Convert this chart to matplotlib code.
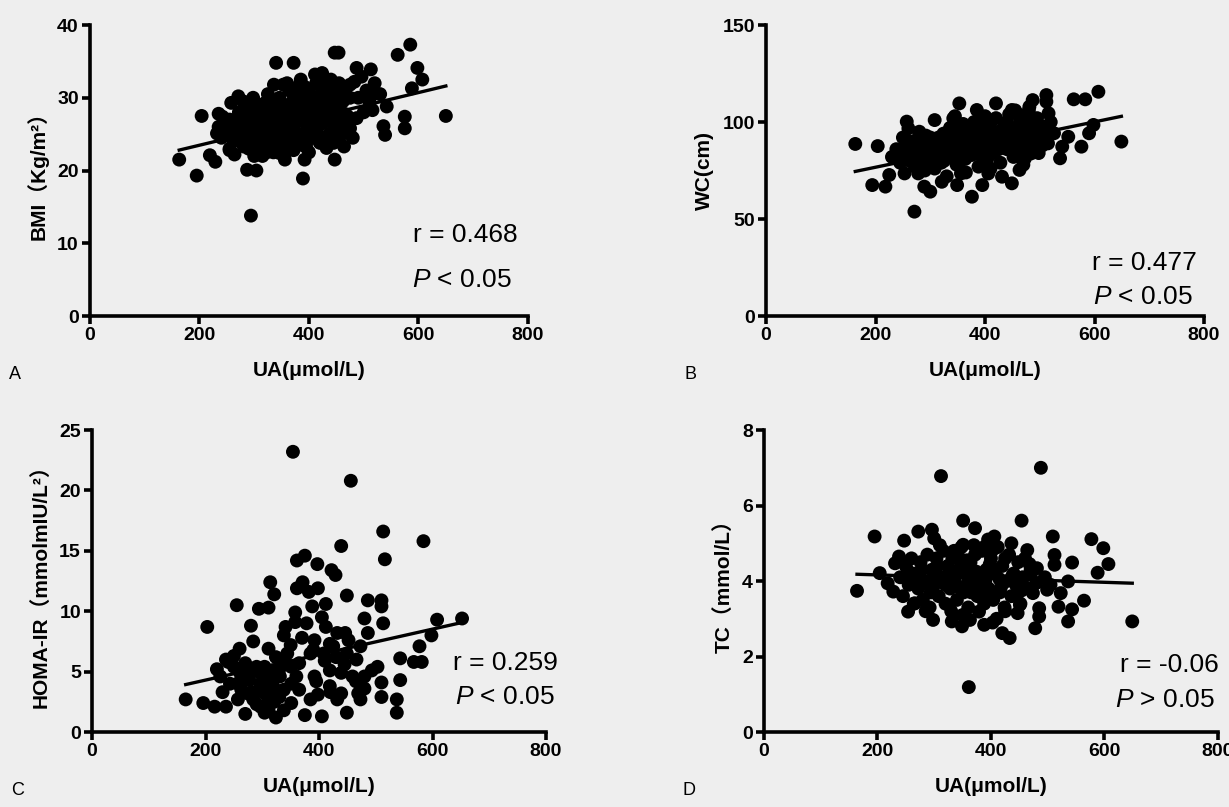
import numpy as np
import matplotlib
matplotlib.use('Agg')
import matplotlib.pyplot as plt

plt.rcParams['font.family'] = ['Liberation Sans', 'Noto Sans CJK SC', 'DejaVu Sans']
plt.rcParams['mathtext.fontset'] = 'custom'
plt.rcParams['mathtext.rm'] = 'Liberation Sans'
plt.rcParams['mathtext.it'] = 'Liberation Sans:italic'

# ---- panel A: BMI vs UA ----
ua_a = [163, 195, 204, 219, 229, 235, 232, 242, 258, 271, 287, 304, 294, 255, 264, 281, 320, 340, 372, 336,
        353, 385, 392, 389, 411, 424, 447, 454, 432, 447, 464, 487, 513, 487, 542, 539, 536, 522, 562, 585,
        598, 607, 588, 575, 575, 650, 496, 516, 483, 474, 480, 457, 438, 405, 379, 359, 353, 346, 356, 372,
        398, 411, 428,
        250, 255, 262, 268, 272, 278, 282, 286, 290, 293, 296, 300, 302, 305, 308, 310, 313, 316, 318, 320,
        323, 326, 328, 331, 334, 337, 340, 343, 346, 348, 351, 353, 356, 358, 361, 364, 366, 369, 372, 375,
        378, 380, 383, 386, 389, 392, 395, 398, 401, 404, 407, 410, 413, 416, 419, 422, 425, 428, 431, 434,
        437, 440, 443, 446, 449, 452, 455, 458, 462, 466, 470, 475, 280, 298, 315, 335, 355, 372, 300, 285,
        312, 325, 360, 345, 390, 415, 430, 445, 460, 505, 520, 510, 530, 500, 255, 240, 245, 235,
        265, 275, 285, 295, 305, 315, 325, 335, 345, 355, 365, 375, 385, 395, 405, 415, 425, 435, 445, 455,
        465, 475, 360, 370, 380, 390, 400, 420, 440, 450, 290, 310, 330, 350, 320, 340, 365, 400, 410, 430,
        285, 270, 300, 330, 345, 395, 420, 460, 475, 490]
bmi = [21.5, 19.3, 27.5, 22.1, 21.2, 26.0, 25.1, 27.4, 29.3, 30.2, 20.1, 20.0, 13.8, 22.8, 22.2, 23.3, 29.3, 34.8, 34.8, 31.8,
       31.8, 32.5, 21.5, 18.9, 33.2, 33.4, 36.2, 36.2, 23.1, 21.5, 23.3, 34.1, 33.9, 27.2, 28.8, 24.9, 26.1, 30.6, 35.9, 37.3,
       34.1, 32.5, 31.3, 27.4, 25.8, 27.5, 32.9, 28.3, 32.2, 25.1, 24.5, 29.7, 30.2, 28.8, 29.7, 27.4, 24.2, 22.4, 21.5, 23.3,
       24.2, 25.6, 27.0,
       25.5, 27.0, 24.0, 26.5, 28.0, 25.0, 23.5, 27.5, 26.0, 24.5, 28.5, 22.0, 25.5, 27.0, 23.0, 29.0, 26.0, 24.0, 27.5, 25.0,
       22.5, 28.0, 26.5, 24.0, 29.5, 27.0, 25.5, 23.5, 30.0, 28.0, 26.0, 24.5, 29.0, 27.0, 23.0, 31.0, 25.5, 28.5, 26.0, 24.0,
       30.5, 27.5, 25.0, 29.0, 23.5, 31.5, 26.5, 28.0, 24.5, 30.0, 27.0, 25.5, 32.0, 28.5, 24.0, 30.5, 26.5, 29.0, 31.5, 27.5,
       25.0, 32.5, 29.5, 26.0, 30.5, 28.0, 32.0, 26.5, 29.5, 31.0, 27.5, 30.0, 29.5, 30.0, 22.0, 22.5, 22.0, 22.8, 24.0, 25.0,
       28.5, 30.5, 32.0, 26.8, 27.2, 29.5, 24.0, 23.8, 25.0, 31.0, 32.0, 29.5, 30.5, 28.0, 23.0, 24.5, 26.0, 27.8,
       24.8, 26.2, 28.8, 25.8, 23.8, 26.8, 24.8, 27.8, 24.2, 26.8, 28.2, 26.5, 23.8, 29.8, 26.2, 25.2, 28.2, 30.2, 27.2, 24.8,
       27.8, 25.8, 25.5, 29.5, 31.5, 25.0, 31.0, 32.5, 29.0, 31.5, 23.0, 27.5, 25.5, 28.5, 23.5, 29.0, 23.5, 22.5, 28.0, 27.0,
       26.5, 24.2, 27.2, 28.8, 22.8, 23.2, 23.8, 30.0, 31.8, 30.0]
fit_a = (0.01809, 19.86)   # slope, intercept

# ---- panel B: WC vs UA ----
ua_b = [163, 204, 194, 218, 225, 257, 260, 271, 308, 353, 342, 385, 376, 420, 449, 481, 487, 512, 512, 516,
        562, 583, 607, 598, 590, 576, 537, 541, 552, 649, 449, 431, 406, 395, 349, 356, 300, 289, 321, 278,
        253, 463, 473, 484, 498, 526, 505,
        230, 238, 245, 250, 255, 262, 268, 272, 276, 280, 284, 288, 292, 296, 300, 304, 308, 312, 316, 320,
        324, 328, 332, 336, 340, 344, 348, 352, 356, 360, 364, 368, 372, 376, 380, 384, 388, 392, 396, 400,
        404, 408, 412, 416, 420, 424, 428, 432, 436, 440, 444, 448, 452, 456, 460, 464, 468, 472, 476, 480,
        486, 492, 498, 504, 510, 515, 520, 300, 290, 330, 345, 365, 385, 410, 435, 455, 470, 495, 260, 280,
        320,
        250, 265, 275, 285, 295, 305, 315, 325, 335, 345, 355, 365, 375, 385, 395, 405, 415, 425, 435, 445,
        455, 465, 475, 485, 495, 505, 345, 360, 380, 400, 420, 440, 460, 480, 500, 310, 290, 270, 330, 390]
wc = [88.7, 87.6, 67.5, 66.7, 72.7, 100.2, 96.7, 53.8, 101.0, 109.6, 101.9, 106.2, 61.5, 109.6, 106.2, 107.9, 111.3, 113.9, 110.5, 104.5,
      111.7, 111.7, 115.6, 98.5, 94.2, 87.3, 81.3, 87.3, 92.4, 89.9, 68.4, 71.8, 73.5, 67.5, 67.5, 73.5, 64.1, 66.7, 69.2, 73.5,
      73.5, 75.3, 81.3, 83.8, 90.7, 94.2, 97.6,
      82, 86, 79, 84, 88, 80, 85, 77, 91, 83, 87, 79, 93, 84, 81, 88, 76, 90, 85, 79,
      94, 87, 82, 97, 89, 84, 78, 92, 86, 99, 81, 94, 88, 83, 96, 91, 77, 100, 86, 93,
      81, 98, 89, 84, 102, 95, 79, 91, 99, 86, 104, 93, 82, 97, 89, 101, 85, 95, 91, 99,
      87, 94, 84, 92, 96, 89, 100, 92, 75, 72, 96, 74, 86, 76, 88, 106, 78, 102, 90, 95,
      86,
      92, 87, 82, 89, 78, 86, 92, 80, 89, 91, 80, 95, 90, 93, 82, 88, 95, 86, 93, 97,
      88, 94, 100, 96, 92, 88, 103, 88, 100, 103, 90, 100, 104, 106, 98, 84, 86, 90, 92, 96]
fit_b = (0.05845, 65.0)

# ---- panel C: HOMA-IR vs UA ----
ua_c = [354, 456, 513, 584, 439, 516, 203, 255, 280, 314, 321, 294, 311, 361, 375, 397, 422, 429, 449, 371,
        361, 358, 382, 398, 412, 486, 510, 510, 480, 513, 608, 652, 598, 577, 567, 581, 543, 543, 537, 537,
        510, 510, 503, 486, 449, 466, 469, 449, 432, 405, 398, 375, 324, 270, 236, 216, 196, 165, 230, 226,
        236, 260, 284, 311, 338, 341, 358, 378, 412, 432, 452, 473, 425, 408, 385, 365, 344, 324, 304, 284,
        263, 243, 263, 284, 304, 318, 331, 351, 365, 392, 419, 439, 459, 480, 493, 473, 439, 419, 385, 351,
        338, 311, 297, 284, 257, 311, 324, 297, 277, 318, 351, 338, 304, 290, 270, 250, 257, 274, 311, 321,
        304, 419, 392, 446, 405, 388,
        330, 300, 280, 260, 320, 340, 350, 370, 390, 410, 430, 445, 465, 480, 420, 395, 360, 290, 310, 330,
        240, 250, 220]
homa = [23.2, 20.8, 16.6, 15.8, 15.4, 14.3, 8.7, 10.5, 8.8, 12.4, 11.4, 10.2, 10.3, 14.2, 14.6, 13.9, 13.4, 13.0, 11.3, 12.4,
        11.9, 9.9, 11.6, 11.9, 10.6, 10.9, 10.9, 10.4, 9.4, 9.0, 9.3, 9.4, 8.0, 7.1, 5.8, 5.8, 6.1, 4.3, 2.7, 1.6,
        2.9, 4.1, 5.4, 8.2, 6.5, 6.0, 3.2, 1.6, 2.7, 1.3, 3.1, 1.4, 1.2, 1.5, 2.1, 2.1, 2.4, 2.7, 3.3, 4.6,
        6.0, 6.9, 7.5, 6.9, 8.0, 8.7, 9.1, 9.0, 8.7, 8.2, 7.6, 7.1, 7.1, 6.5, 6.5, 5.7, 6.5, 6.2, 5.4, 5.2,
        4.6, 4.0, 3.5, 3.3, 3.8, 4.3, 4.6, 4.0, 3.5, 4.6, 5.1, 4.9, 4.6, 4.6, 5.1, 2.7, 3.2, 3.8, 2.7, 2.4,
        1.8, 1.8, 2.1, 2.7, 2.7, 2.7, 3.2, 4.0, 4.3, 5.1, 5.4, 3.5, 3.2, 5.4, 5.7, 5.4, 4.0, 3.2, 3.0, 2.5,
        1.6, 7.3, 7.6, 8.2, 9.5, 10.4,
        5.2, 4.7, 4.9, 5.0, 3.7, 5.8, 7.2, 7.8, 6.8, 5.9, 6.2, 5.6, 4.2, 3.6, 3.3, 4.2, 4.6, 2.3, 3.6, 2.9,
        5.8, 6.3, 5.2]
fit_c = (0.01055, 2.19)

# ---- panel D: TC vs UA ----
ua_d = [164, 195, 247, 272, 296, 300, 312, 351, 372, 454, 488, 509, 577, 598, 607, 588, 543, 536, 564, 543,
        536, 519, 649, 478, 485, 485, 433, 420, 403, 388, 361, 298, 331, 349, 363, 379, 254, 266, 218, 228,
        204, 231, 238, 512, 512, 464, 436, 406, 389, 351, 458, 471, 481, 474, 499, 523, 447, 451,
        240, 245, 250, 255, 260, 264, 268, 272, 276, 280, 284, 288, 292, 296, 300, 304, 308, 312, 316, 320,
        324, 328, 332, 336, 340, 344, 348, 352, 356, 360, 364, 368, 372, 376, 380, 384, 388, 392, 396, 400,
        404, 408, 412, 416, 420, 424, 428, 432, 436, 440, 444, 448, 452, 456, 460, 466, 470, 330, 350, 370,
        395, 410, 425, 285, 310, 345, 380, 415, 445, 300, 320, 360, 390,
        262, 278, 294, 306, 326, 342, 358, 374, 386, 398, 418, 438, 454, 468, 480, 495, 505, 335, 365, 405,
        425, 280, 255]
tc = [3.74, 5.18, 5.07, 5.31, 5.36, 5.13, 6.78, 5.60, 5.40, 5.60, 7.00, 5.18, 5.11, 4.87, 4.45, 4.22, 4.49, 3.99, 3.48, 3.25,
      2.93, 3.32, 2.93, 2.75, 3.06, 3.28, 2.49, 2.62, 2.90, 2.84, 1.19, 2.97, 2.93, 2.80, 2.97, 3.19, 3.19, 3.41, 3.94, 3.72,
      4.21, 4.47, 4.65, 4.43, 4.69, 4.82, 5.00, 5.18, 4.91, 4.96, 3.86, 4.21, 4.34, 3.68, 3.77, 3.68, 3.15, 3.37,
      4.1, 3.6, 4.4, 3.9, 4.6, 3.4, 4.2, 3.8, 4.5, 3.5, 4.0, 4.7, 3.3, 4.3, 3.9, 4.6, 3.6, 4.1, 4.8, 3.4,
      4.4, 3.8, 4.6, 4.0, 3.5, 4.3, 4.9, 3.7, 4.2, 3.3, 4.5, 3.9, 4.7, 3.6, 4.1, 4.8, 3.4, 4.3, 3.8, 4.6,
      3.5, 4.2, 4.9, 3.7, 4.4, 3.3, 4.0, 4.7, 3.6, 4.2, 3.9, 4.5, 3.4, 4.1, 4.6, 3.8, 4.3, 3.2, 3.1, 4.95,
      5.1, 3.0, 3.2, 3.2, 4.95, 4.6, 3.75, 4.05, 3.6, 4.2, 3.9, 4.0, 4.0,
      4.05, 4.3, 3.7, 4.4, 4.15, 3.85, 4.55, 4.25, 3.55, 4.45, 3.85, 4.15, 3.75, 4.45, 3.95, 4.1, 3.9, 4.8, 3.7, 4.85,
      4.6, 3.95, 4.25]
fit_d = (-0.000489, 4.26)

panels = [
    dict(x=ua_a, y=bmi, fit=fit_a, ymax=40, ystep=10, ylabel='BMI（Kg/m²）', letter='A',
         rect=[0.0732, 0.6084, 0.3564, 0.3606], r='r = 0.468', p='$P$ < 0.05',
         rpos=(0.856, 0.278), ppos=(0.849, 0.124)),
    dict(x=ua_b, y=wc, fit=fit_b, ymax=150, ystep=50, ylabel='WC(cm)', letter='B',
         rect=[0.6233, 0.6084, 0.3564, 0.3606], r='r = 0.477', p='$P$ < 0.05',
         rpos=(0.865, 0.182), ppos=(0.861, 0.065)),
    dict(x=ua_c, y=homa, fit=fit_c, ymax=25, ystep=5, ylabel='HOMA-IR（mmolmIU/L²）', letter='C',
         rect=[0.0749, 0.0929, 0.3694, 0.3742], r='r = 0.259', p='$P$ < 0.05',
         rpos=(0.910, 0.228), ppos=(0.910, 0.116)),
    dict(x=ua_d, y=tc, fit=fit_d, ymax=8, ystep=2, ylabel='TC（mmol/L）', letter='D',
         rect=[0.6216, 0.0929, 0.3694, 0.3742], r='r = -0.06', p='$P$ > 0.05',
         rpos=(0.894, 0.222), ppos=(0.883, 0.106)),
]

fig = plt.figure(figsize=(12.29, 8.07), dpi=100)
fig.patch.set_facecolor('#eeeeee')

for pn in panels:
    ax = fig.add_axes(pn['rect'])
    ax.set_facecolor('none')
    ax.scatter(pn['x'], pn['y'], s=100, color='black', edgecolors='none', clip_on=False, zorder=3)
    xs = np.array([min(pn['x']), max(pn['x'])])
    ax.plot(xs, pn['fit'][0] * xs + pn['fit'][1], color='black', lw=2.4, zorder=4)
    ax.set_xlim(0, 800)
    ax.set_ylim(0, pn['ymax'])
    ax.set_xticks(np.arange(0, 801, 200))
    ax.set_yticks(np.arange(0, pn['ymax'] + 0.1, pn['ystep']))
    for s in ['top', 'right']:
        ax.spines[s].set_visible(False)
    for s in ['left', 'bottom']:
        ax.spines[s].set_linewidth(2.6)
    ax.tick_params(direction='out', length=6, width=2.6, labelsize=14, pad=2)
    for lab in ax.get_xticklabels() + ax.get_yticklabels():
        lab.set_fontweight('bold')
    ax.set_xlabel('UA(μmol/L)', fontsize=15, fontweight='bold', labelpad=12)
    ax.set_ylabel(pn['ylabel'], fontsize=15, fontweight='bold', labelpad=6)
    ax.text(*pn['rpos'], pn['r'], transform=ax.transAxes, fontsize=19, ha='center', va='center')
    ax.text(*pn['ppos'], pn['p'], transform=ax.transAxes, fontsize=19, ha='center', va='center')
    fig.text(pn['rect'][0] - 0.066, pn['rect'][1] - 0.073, pn['letter'], fontsize=13, ha='left', va='center')

fig.savefig('out.png', dpi=100, facecolor=fig.get_facecolor())
